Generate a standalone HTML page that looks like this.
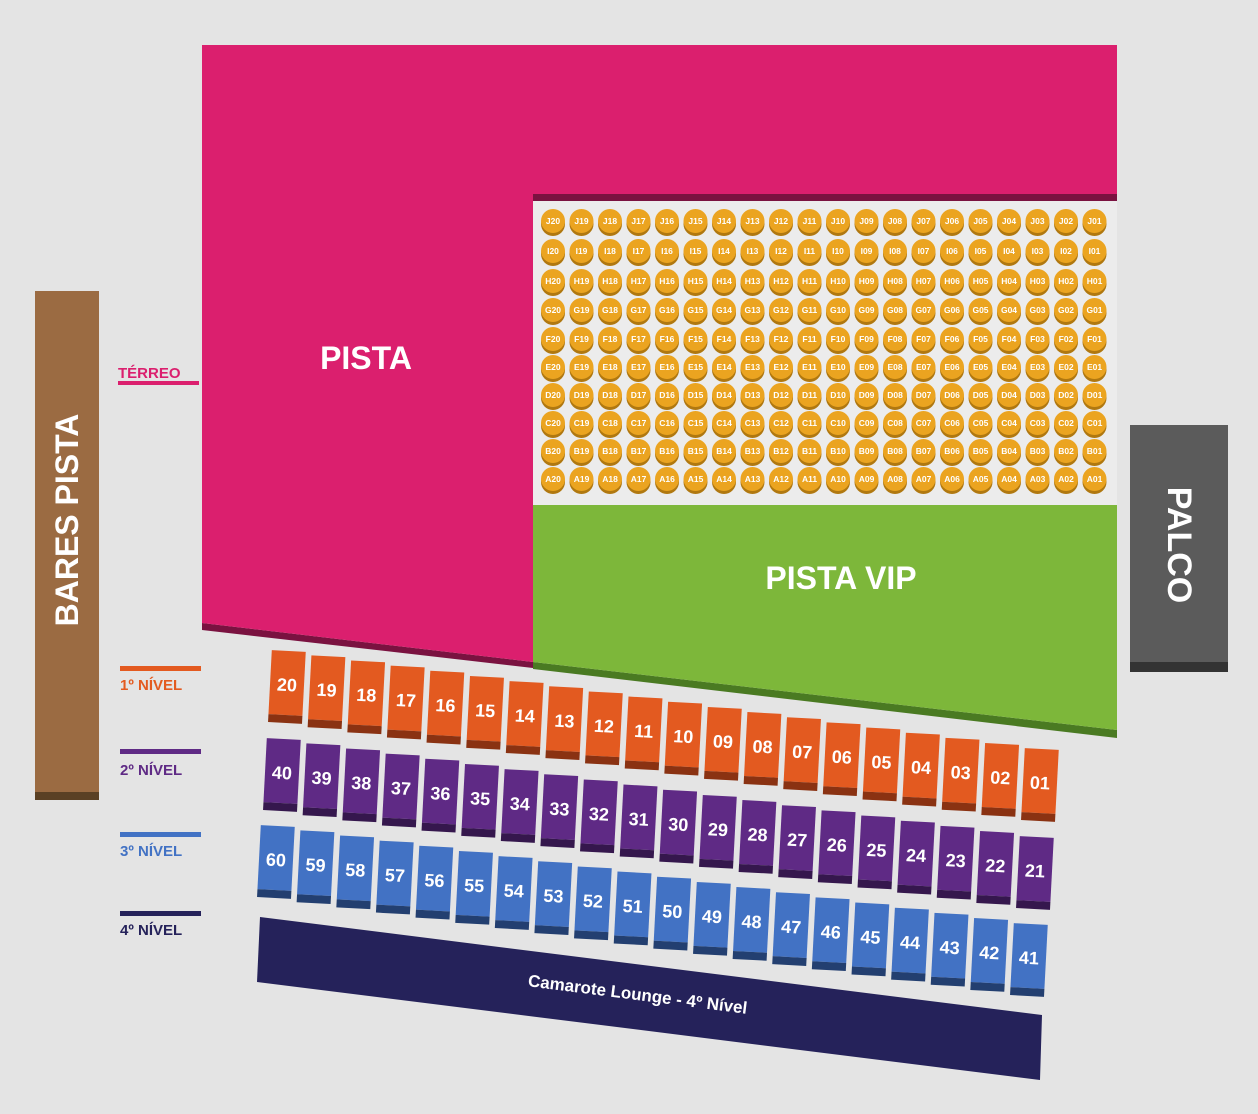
<!DOCTYPE html>
<html><head><meta charset="utf-8"><style>
html,body{margin:0;padding:0;background:#e4e4e4}
svg{display:block}
text{font-family:"Liberation Sans",sans-serif;font-weight:bold}
.s text{font-size:8.5px;fill:#fff;text-anchor:middle}
.b text{font-size:18px;fill:#fff;text-anchor:middle}
</style></head><body>
<svg width="1258" height="1114" viewBox="0 0 1258 1114" xmlns="http://www.w3.org/2000/svg" xmlns:xlink="http://www.w3.org/1999/xlink">
<defs>
<g id="s"><circle cy="3" r="12" fill="#B07810"/><circle r="12" fill="#EBA420"/></g>
<g id="o"><rect x="-17" y="-34" width="34" height="64" fill="#E35A20"/><rect x="-17" y="30" width="34" height="8" fill="#8A3212"/></g>
<g id="p"><rect x="-17" y="-34" width="34" height="64" fill="#5F2A85"/><rect x="-17" y="30" width="34" height="8" fill="#35174D"/></g>
<g id="u"><rect x="-17" y="-34" width="34" height="64" fill="#4272C4"/><rect x="-17" y="30" width="34" height="8" fill="#233F70"/></g>
</defs>
<rect width="1258" height="1114" fill="#e4e4e4"/>
<!-- Bares pista -->
<rect x="35" y="291" width="64" height="509" fill="#9B6B42"/>
<rect x="35" y="792" width="64" height="8" fill="#5A4024"/>
<text transform="translate(78,520) rotate(-90)" text-anchor="middle" font-size="32" fill="#fff">BARES PISTA</text>
<!-- Pista -->
<polygon points="202,623 533,662 533,668 202,630" fill="#7A1240"/>
<polygon points="202,45 1117,45 1117,195 533,195 533,662 202,623" fill="#DB1F6E"/>
<rect x="533" y="194" width="584" height="7" fill="#7A1240"/>
<rect x="533" y="201" width="584" height="304" fill="#ececec"/>
<text x="366" y="369" text-anchor="middle" font-size="32" fill="#fff">PISTA</text>
<!-- Pista VIP -->
<polygon points="533,662 1117,730 1117,738 533,669" fill="#4A7A22"/>
<polygon points="533,505 1117,505 1117,730 533,662" fill="#7DB73A"/>
<text x="841" y="589" text-anchor="middle" font-size="32" fill="#fff">PISTA VIP</text>
<!-- Palco -->
<rect x="1130" y="425" width="98" height="247" fill="#5B5B5B"/>
<rect x="1130" y="662" width="98" height="10" fill="#333"/>
<text transform="translate(1168,545) rotate(90)" text-anchor="middle" font-size="34" fill="#fff">PALCO</text>
<!-- legend -->
<text x="118" y="378" font-size="15" fill="#DB1F6E">TÉRREO</text><rect x="118" y="381" width="81" height="4" fill="#DB1F6E"/>
<rect x="120" y="666" width="81" height="5" fill="#E35A20"/><text x="120" y="690" font-size="15" fill="#E35A20">1º NÍVEL</text>
<rect x="120" y="749" width="81" height="5" fill="#5F2A85"/><text x="120" y="775" font-size="15" fill="#5F2A85">2º NÍVEL</text>
<rect x="120" y="832" width="81" height="5" fill="#4272C4"/><text x="120" y="856" font-size="15" fill="#4272C4">3º NÍVEL</text>
<rect x="120" y="911" width="81" height="5" fill="#25225A"/><text x="120" y="935" font-size="15" fill="#25225A">4º NÍVEL</text>
<!-- Camarote -->
<polygon points="260,917 1042,1015 1040,1080 257,982" fill="#25225A"/>
<text transform="translate(637,1000) rotate(7.2)" text-anchor="middle" font-size="17" fill="#fff">Camarote Lounge - 4º Nível</text>
<!-- seats -->
<g class="s">
<g transform="translate(0,221)">
<use xlink:href="#s" x="553"/><use xlink:href="#s" x="581.5"/><use xlink:href="#s" x="610"/><use xlink:href="#s" x="638.5"/><use xlink:href="#s" x="667"/><use xlink:href="#s" x="695.5"/><use xlink:href="#s" x="724"/><use xlink:href="#s" x="752.5"/><use xlink:href="#s" x="781"/><use xlink:href="#s" x="809.5"/><use xlink:href="#s" x="838"/><use xlink:href="#s" x="866.5"/><use xlink:href="#s" x="895"/><use xlink:href="#s" x="923.5"/><use xlink:href="#s" x="952"/><use xlink:href="#s" x="980.5"/><use xlink:href="#s" x="1009"/><use xlink:href="#s" x="1037.5"/><use xlink:href="#s" x="1066"/><use xlink:href="#s" x="1094.5"/>
<text y="3" x="553">J20</text><text y="3" x="581.5">J19</text><text y="3" x="610">J18</text><text y="3" x="638.5">J17</text><text y="3" x="667">J16</text><text y="3" x="695.5">J15</text><text y="3" x="724">J14</text><text y="3" x="752.5">J13</text><text y="3" x="781">J12</text><text y="3" x="809.5">J11</text><text y="3" x="838">J10</text><text y="3" x="866.5">J09</text><text y="3" x="895">J08</text><text y="3" x="923.5">J07</text><text y="3" x="952">J06</text><text y="3" x="980.5">J05</text><text y="3" x="1009">J04</text><text y="3" x="1037.5">J03</text><text y="3" x="1066">J02</text><text y="3" x="1094.5">J01</text>
</g>
<g transform="translate(0,251)">
<use xlink:href="#s" x="553"/><use xlink:href="#s" x="581.5"/><use xlink:href="#s" x="610"/><use xlink:href="#s" x="638.5"/><use xlink:href="#s" x="667"/><use xlink:href="#s" x="695.5"/><use xlink:href="#s" x="724"/><use xlink:href="#s" x="752.5"/><use xlink:href="#s" x="781"/><use xlink:href="#s" x="809.5"/><use xlink:href="#s" x="838"/><use xlink:href="#s" x="866.5"/><use xlink:href="#s" x="895"/><use xlink:href="#s" x="923.5"/><use xlink:href="#s" x="952"/><use xlink:href="#s" x="980.5"/><use xlink:href="#s" x="1009"/><use xlink:href="#s" x="1037.5"/><use xlink:href="#s" x="1066"/><use xlink:href="#s" x="1094.5"/>
<text y="3" x="553">I20</text><text y="3" x="581.5">I19</text><text y="3" x="610">I18</text><text y="3" x="638.5">I17</text><text y="3" x="667">I16</text><text y="3" x="695.5">I15</text><text y="3" x="724">I14</text><text y="3" x="752.5">I13</text><text y="3" x="781">I12</text><text y="3" x="809.5">I11</text><text y="3" x="838">I10</text><text y="3" x="866.5">I09</text><text y="3" x="895">I08</text><text y="3" x="923.5">I07</text><text y="3" x="952">I06</text><text y="3" x="980.5">I05</text><text y="3" x="1009">I04</text><text y="3" x="1037.5">I03</text><text y="3" x="1066">I02</text><text y="3" x="1094.5">I01</text>
</g>
<g transform="translate(0,281)">
<use xlink:href="#s" x="553"/><use xlink:href="#s" x="581.5"/><use xlink:href="#s" x="610"/><use xlink:href="#s" x="638.5"/><use xlink:href="#s" x="667"/><use xlink:href="#s" x="695.5"/><use xlink:href="#s" x="724"/><use xlink:href="#s" x="752.5"/><use xlink:href="#s" x="781"/><use xlink:href="#s" x="809.5"/><use xlink:href="#s" x="838"/><use xlink:href="#s" x="866.5"/><use xlink:href="#s" x="895"/><use xlink:href="#s" x="923.5"/><use xlink:href="#s" x="952"/><use xlink:href="#s" x="980.5"/><use xlink:href="#s" x="1009"/><use xlink:href="#s" x="1037.5"/><use xlink:href="#s" x="1066"/><use xlink:href="#s" x="1094.5"/>
<text y="3" x="553">H20</text><text y="3" x="581.5">H19</text><text y="3" x="610">H18</text><text y="3" x="638.5">H17</text><text y="3" x="667">H16</text><text y="3" x="695.5">H15</text><text y="3" x="724">H14</text><text y="3" x="752.5">H13</text><text y="3" x="781">H12</text><text y="3" x="809.5">H11</text><text y="3" x="838">H10</text><text y="3" x="866.5">H09</text><text y="3" x="895">H08</text><text y="3" x="923.5">H07</text><text y="3" x="952">H06</text><text y="3" x="980.5">H05</text><text y="3" x="1009">H04</text><text y="3" x="1037.5">H03</text><text y="3" x="1066">H02</text><text y="3" x="1094.5">H01</text>
</g>
<g transform="translate(0,310)">
<use xlink:href="#s" x="553"/><use xlink:href="#s" x="581.5"/><use xlink:href="#s" x="610"/><use xlink:href="#s" x="638.5"/><use xlink:href="#s" x="667"/><use xlink:href="#s" x="695.5"/><use xlink:href="#s" x="724"/><use xlink:href="#s" x="752.5"/><use xlink:href="#s" x="781"/><use xlink:href="#s" x="809.5"/><use xlink:href="#s" x="838"/><use xlink:href="#s" x="866.5"/><use xlink:href="#s" x="895"/><use xlink:href="#s" x="923.5"/><use xlink:href="#s" x="952"/><use xlink:href="#s" x="980.5"/><use xlink:href="#s" x="1009"/><use xlink:href="#s" x="1037.5"/><use xlink:href="#s" x="1066"/><use xlink:href="#s" x="1094.5"/>
<text y="3" x="553">G20</text><text y="3" x="581.5">G19</text><text y="3" x="610">G18</text><text y="3" x="638.5">G17</text><text y="3" x="667">G16</text><text y="3" x="695.5">G15</text><text y="3" x="724">G14</text><text y="3" x="752.5">G13</text><text y="3" x="781">G12</text><text y="3" x="809.5">G11</text><text y="3" x="838">G10</text><text y="3" x="866.5">G09</text><text y="3" x="895">G08</text><text y="3" x="923.5">G07</text><text y="3" x="952">G06</text><text y="3" x="980.5">G05</text><text y="3" x="1009">G04</text><text y="3" x="1037.5">G03</text><text y="3" x="1066">G02</text><text y="3" x="1094.5">G01</text>
</g>
<g transform="translate(0,339)">
<use xlink:href="#s" x="553"/><use xlink:href="#s" x="581.5"/><use xlink:href="#s" x="610"/><use xlink:href="#s" x="638.5"/><use xlink:href="#s" x="667"/><use xlink:href="#s" x="695.5"/><use xlink:href="#s" x="724"/><use xlink:href="#s" x="752.5"/><use xlink:href="#s" x="781"/><use xlink:href="#s" x="809.5"/><use xlink:href="#s" x="838"/><use xlink:href="#s" x="866.5"/><use xlink:href="#s" x="895"/><use xlink:href="#s" x="923.5"/><use xlink:href="#s" x="952"/><use xlink:href="#s" x="980.5"/><use xlink:href="#s" x="1009"/><use xlink:href="#s" x="1037.5"/><use xlink:href="#s" x="1066"/><use xlink:href="#s" x="1094.5"/>
<text y="3" x="553">F20</text><text y="3" x="581.5">F19</text><text y="3" x="610">F18</text><text y="3" x="638.5">F17</text><text y="3" x="667">F16</text><text y="3" x="695.5">F15</text><text y="3" x="724">F14</text><text y="3" x="752.5">F13</text><text y="3" x="781">F12</text><text y="3" x="809.5">F11</text><text y="3" x="838">F10</text><text y="3" x="866.5">F09</text><text y="3" x="895">F08</text><text y="3" x="923.5">F07</text><text y="3" x="952">F06</text><text y="3" x="980.5">F05</text><text y="3" x="1009">F04</text><text y="3" x="1037.5">F03</text><text y="3" x="1066">F02</text><text y="3" x="1094.5">F01</text>
</g>
<g transform="translate(0,367)">
<use xlink:href="#s" x="553"/><use xlink:href="#s" x="581.5"/><use xlink:href="#s" x="610"/><use xlink:href="#s" x="638.5"/><use xlink:href="#s" x="667"/><use xlink:href="#s" x="695.5"/><use xlink:href="#s" x="724"/><use xlink:href="#s" x="752.5"/><use xlink:href="#s" x="781"/><use xlink:href="#s" x="809.5"/><use xlink:href="#s" x="838"/><use xlink:href="#s" x="866.5"/><use xlink:href="#s" x="895"/><use xlink:href="#s" x="923.5"/><use xlink:href="#s" x="952"/><use xlink:href="#s" x="980.5"/><use xlink:href="#s" x="1009"/><use xlink:href="#s" x="1037.5"/><use xlink:href="#s" x="1066"/><use xlink:href="#s" x="1094.5"/>
<text y="3" x="553">E20</text><text y="3" x="581.5">E19</text><text y="3" x="610">E18</text><text y="3" x="638.5">E17</text><text y="3" x="667">E16</text><text y="3" x="695.5">E15</text><text y="3" x="724">E14</text><text y="3" x="752.5">E13</text><text y="3" x="781">E12</text><text y="3" x="809.5">E11</text><text y="3" x="838">E10</text><text y="3" x="866.5">E09</text><text y="3" x="895">E08</text><text y="3" x="923.5">E07</text><text y="3" x="952">E06</text><text y="3" x="980.5">E05</text><text y="3" x="1009">E04</text><text y="3" x="1037.5">E03</text><text y="3" x="1066">E02</text><text y="3" x="1094.5">E01</text>
</g>
<g transform="translate(0,395)">
<use xlink:href="#s" x="553"/><use xlink:href="#s" x="581.5"/><use xlink:href="#s" x="610"/><use xlink:href="#s" x="638.5"/><use xlink:href="#s" x="667"/><use xlink:href="#s" x="695.5"/><use xlink:href="#s" x="724"/><use xlink:href="#s" x="752.5"/><use xlink:href="#s" x="781"/><use xlink:href="#s" x="809.5"/><use xlink:href="#s" x="838"/><use xlink:href="#s" x="866.5"/><use xlink:href="#s" x="895"/><use xlink:href="#s" x="923.5"/><use xlink:href="#s" x="952"/><use xlink:href="#s" x="980.5"/><use xlink:href="#s" x="1009"/><use xlink:href="#s" x="1037.5"/><use xlink:href="#s" x="1066"/><use xlink:href="#s" x="1094.5"/>
<text y="3" x="553">D20</text><text y="3" x="581.5">D19</text><text y="3" x="610">D18</text><text y="3" x="638.5">D17</text><text y="3" x="667">D16</text><text y="3" x="695.5">D15</text><text y="3" x="724">D14</text><text y="3" x="752.5">D13</text><text y="3" x="781">D12</text><text y="3" x="809.5">D11</text><text y="3" x="838">D10</text><text y="3" x="866.5">D09</text><text y="3" x="895">D08</text><text y="3" x="923.5">D07</text><text y="3" x="952">D06</text><text y="3" x="980.5">D05</text><text y="3" x="1009">D04</text><text y="3" x="1037.5">D03</text><text y="3" x="1066">D02</text><text y="3" x="1094.5">D01</text>
</g>
<g transform="translate(0,423)">
<use xlink:href="#s" x="553"/><use xlink:href="#s" x="581.5"/><use xlink:href="#s" x="610"/><use xlink:href="#s" x="638.5"/><use xlink:href="#s" x="667"/><use xlink:href="#s" x="695.5"/><use xlink:href="#s" x="724"/><use xlink:href="#s" x="752.5"/><use xlink:href="#s" x="781"/><use xlink:href="#s" x="809.5"/><use xlink:href="#s" x="838"/><use xlink:href="#s" x="866.5"/><use xlink:href="#s" x="895"/><use xlink:href="#s" x="923.5"/><use xlink:href="#s" x="952"/><use xlink:href="#s" x="980.5"/><use xlink:href="#s" x="1009"/><use xlink:href="#s" x="1037.5"/><use xlink:href="#s" x="1066"/><use xlink:href="#s" x="1094.5"/>
<text y="3" x="553">C20</text><text y="3" x="581.5">C19</text><text y="3" x="610">C18</text><text y="3" x="638.5">C17</text><text y="3" x="667">C16</text><text y="3" x="695.5">C15</text><text y="3" x="724">C14</text><text y="3" x="752.5">C13</text><text y="3" x="781">C12</text><text y="3" x="809.5">C11</text><text y="3" x="838">C10</text><text y="3" x="866.5">C09</text><text y="3" x="895">C08</text><text y="3" x="923.5">C07</text><text y="3" x="952">C06</text><text y="3" x="980.5">C05</text><text y="3" x="1009">C04</text><text y="3" x="1037.5">C03</text><text y="3" x="1066">C02</text><text y="3" x="1094.5">C01</text>
</g>
<g transform="translate(0,451)">
<use xlink:href="#s" x="553"/><use xlink:href="#s" x="581.5"/><use xlink:href="#s" x="610"/><use xlink:href="#s" x="638.5"/><use xlink:href="#s" x="667"/><use xlink:href="#s" x="695.5"/><use xlink:href="#s" x="724"/><use xlink:href="#s" x="752.5"/><use xlink:href="#s" x="781"/><use xlink:href="#s" x="809.5"/><use xlink:href="#s" x="838"/><use xlink:href="#s" x="866.5"/><use xlink:href="#s" x="895"/><use xlink:href="#s" x="923.5"/><use xlink:href="#s" x="952"/><use xlink:href="#s" x="980.5"/><use xlink:href="#s" x="1009"/><use xlink:href="#s" x="1037.5"/><use xlink:href="#s" x="1066"/><use xlink:href="#s" x="1094.5"/>
<text y="3" x="553">B20</text><text y="3" x="581.5">B19</text><text y="3" x="610">B18</text><text y="3" x="638.5">B17</text><text y="3" x="667">B16</text><text y="3" x="695.5">B15</text><text y="3" x="724">B14</text><text y="3" x="752.5">B13</text><text y="3" x="781">B12</text><text y="3" x="809.5">B11</text><text y="3" x="838">B10</text><text y="3" x="866.5">B09</text><text y="3" x="895">B08</text><text y="3" x="923.5">B07</text><text y="3" x="952">B06</text><text y="3" x="980.5">B05</text><text y="3" x="1009">B04</text><text y="3" x="1037.5">B03</text><text y="3" x="1066">B02</text><text y="3" x="1094.5">B01</text>
</g>
<g transform="translate(0,479)">
<use xlink:href="#s" x="553"/><use xlink:href="#s" x="581.5"/><use xlink:href="#s" x="610"/><use xlink:href="#s" x="638.5"/><use xlink:href="#s" x="667"/><use xlink:href="#s" x="695.5"/><use xlink:href="#s" x="724"/><use xlink:href="#s" x="752.5"/><use xlink:href="#s" x="781"/><use xlink:href="#s" x="809.5"/><use xlink:href="#s" x="838"/><use xlink:href="#s" x="866.5"/><use xlink:href="#s" x="895"/><use xlink:href="#s" x="923.5"/><use xlink:href="#s" x="952"/><use xlink:href="#s" x="980.5"/><use xlink:href="#s" x="1009"/><use xlink:href="#s" x="1037.5"/><use xlink:href="#s" x="1066"/><use xlink:href="#s" x="1094.5"/>
<text y="3" x="553">A20</text><text y="3" x="581.5">A19</text><text y="3" x="610">A18</text><text y="3" x="638.5">A17</text><text y="3" x="667">A16</text><text y="3" x="695.5">A15</text><text y="3" x="724">A14</text><text y="3" x="752.5">A13</text><text y="3" x="781">A12</text><text y="3" x="809.5">A11</text><text y="3" x="838">A10</text><text y="3" x="866.5">A09</text><text y="3" x="895">A08</text><text y="3" x="923.5">A07</text><text y="3" x="952">A06</text><text y="3" x="980.5">A05</text><text y="3" x="1009">A04</text><text y="3" x="1037.5">A03</text><text y="3" x="1066">A02</text><text y="3" x="1094.5">A01</text>
</g>
</g>
<!-- boxes -->
<g class="b">
<g>
<g transform="translate(287,685) rotate(3)"><use xlink:href="#o"/><text y="6">20</text></g>
<g transform="translate(326.6,690.2) rotate(3)"><use xlink:href="#o"/><text y="6">19</text></g>
<g transform="translate(366.3,695.3) rotate(3)"><use xlink:href="#o"/><text y="6">18</text></g>
<g transform="translate(405.9,700.5) rotate(3)"><use xlink:href="#o"/><text y="6">17</text></g>
<g transform="translate(445.5,705.6) rotate(3)"><use xlink:href="#o"/><text y="6">16</text></g>
<g transform="translate(485.2,710.8) rotate(3)"><use xlink:href="#o"/><text y="6">15</text></g>
<g transform="translate(524.8,716) rotate(3)"><use xlink:href="#o"/><text y="6">14</text></g>
<g transform="translate(564.4,721.1) rotate(3)"><use xlink:href="#o"/><text y="6">13</text></g>
<g transform="translate(604,726.3) rotate(3)"><use xlink:href="#o"/><text y="6">12</text></g>
<g transform="translate(643.7,731.4) rotate(3)"><use xlink:href="#o"/><text y="6">11</text></g>
<g transform="translate(683.3,736.6) rotate(3)"><use xlink:href="#o"/><text y="6">10</text></g>
<g transform="translate(723,741.8) rotate(3)"><use xlink:href="#o"/><text y="6">09</text></g>
<g transform="translate(762.6,746.9) rotate(3)"><use xlink:href="#o"/><text y="6">08</text></g>
<g transform="translate(802.2,752.1) rotate(3)"><use xlink:href="#o"/><text y="6">07</text></g>
<g transform="translate(841.8,757.2) rotate(3)"><use xlink:href="#o"/><text y="6">06</text></g>
<g transform="translate(881.5,762.4) rotate(3)"><use xlink:href="#o"/><text y="6">05</text></g>
<g transform="translate(921.1,767.6) rotate(3)"><use xlink:href="#o"/><text y="6">04</text></g>
<g transform="translate(960.7,772.7) rotate(3)"><use xlink:href="#o"/><text y="6">03</text></g>
<g transform="translate(1000.3,777.9) rotate(3)"><use xlink:href="#o"/><text y="6">02</text></g>
<g transform="translate(1040,783) rotate(3)"><use xlink:href="#o"/><text y="6">01</text></g>
</g>
<g transform="translate(-5,88)">
<g transform="translate(287,685) rotate(3)"><use xlink:href="#p"/><text y="6">40</text></g>
<g transform="translate(326.6,690.2) rotate(3)"><use xlink:href="#p"/><text y="6">39</text></g>
<g transform="translate(366.3,695.3) rotate(3)"><use xlink:href="#p"/><text y="6">38</text></g>
<g transform="translate(405.9,700.5) rotate(3)"><use xlink:href="#p"/><text y="6">37</text></g>
<g transform="translate(445.5,705.6) rotate(3)"><use xlink:href="#p"/><text y="6">36</text></g>
<g transform="translate(485.2,710.8) rotate(3)"><use xlink:href="#p"/><text y="6">35</text></g>
<g transform="translate(524.8,716) rotate(3)"><use xlink:href="#p"/><text y="6">34</text></g>
<g transform="translate(564.4,721.1) rotate(3)"><use xlink:href="#p"/><text y="6">33</text></g>
<g transform="translate(604,726.3) rotate(3)"><use xlink:href="#p"/><text y="6">32</text></g>
<g transform="translate(643.7,731.4) rotate(3)"><use xlink:href="#p"/><text y="6">31</text></g>
<g transform="translate(683.3,736.6) rotate(3)"><use xlink:href="#p"/><text y="6">30</text></g>
<g transform="translate(723,741.8) rotate(3)"><use xlink:href="#p"/><text y="6">29</text></g>
<g transform="translate(762.6,746.9) rotate(3)"><use xlink:href="#p"/><text y="6">28</text></g>
<g transform="translate(802.2,752.1) rotate(3)"><use xlink:href="#p"/><text y="6">27</text></g>
<g transform="translate(841.8,757.2) rotate(3)"><use xlink:href="#p"/><text y="6">26</text></g>
<g transform="translate(881.5,762.4) rotate(3)"><use xlink:href="#p"/><text y="6">25</text></g>
<g transform="translate(921.1,767.6) rotate(3)"><use xlink:href="#p"/><text y="6">24</text></g>
<g transform="translate(960.7,772.7) rotate(3)"><use xlink:href="#p"/><text y="6">23</text></g>
<g transform="translate(1000.3,777.9) rotate(3)"><use xlink:href="#p"/><text y="6">22</text></g>
<g transform="translate(1040,783) rotate(3)"><use xlink:href="#p"/><text y="6">21</text></g>
</g>
<g transform="translate(-11,175)">
<g transform="translate(287,685) rotate(3)"><use xlink:href="#u"/><text y="6">60</text></g>
<g transform="translate(326.6,690.2) rotate(3)"><use xlink:href="#u"/><text y="6">59</text></g>
<g transform="translate(366.3,695.3) rotate(3)"><use xlink:href="#u"/><text y="6">58</text></g>
<g transform="translate(405.9,700.5) rotate(3)"><use xlink:href="#u"/><text y="6">57</text></g>
<g transform="translate(445.5,705.6) rotate(3)"><use xlink:href="#u"/><text y="6">56</text></g>
<g transform="translate(485.2,710.8) rotate(3)"><use xlink:href="#u"/><text y="6">55</text></g>
<g transform="translate(524.8,716) rotate(3)"><use xlink:href="#u"/><text y="6">54</text></g>
<g transform="translate(564.4,721.1) rotate(3)"><use xlink:href="#u"/><text y="6">53</text></g>
<g transform="translate(604,726.3) rotate(3)"><use xlink:href="#u"/><text y="6">52</text></g>
<g transform="translate(643.7,731.4) rotate(3)"><use xlink:href="#u"/><text y="6">51</text></g>
<g transform="translate(683.3,736.6) rotate(3)"><use xlink:href="#u"/><text y="6">50</text></g>
<g transform="translate(723,741.8) rotate(3)"><use xlink:href="#u"/><text y="6">49</text></g>
<g transform="translate(762.6,746.9) rotate(3)"><use xlink:href="#u"/><text y="6">48</text></g>
<g transform="translate(802.2,752.1) rotate(3)"><use xlink:href="#u"/><text y="6">47</text></g>
<g transform="translate(841.8,757.2) rotate(3)"><use xlink:href="#u"/><text y="6">46</text></g>
<g transform="translate(881.5,762.4) rotate(3)"><use xlink:href="#u"/><text y="6">45</text></g>
<g transform="translate(921.1,767.6) rotate(3)"><use xlink:href="#u"/><text y="6">44</text></g>
<g transform="translate(960.7,772.7) rotate(3)"><use xlink:href="#u"/><text y="6">43</text></g>
<g transform="translate(1000.3,777.9) rotate(3)"><use xlink:href="#u"/><text y="6">42</text></g>
<g transform="translate(1040,783) rotate(3)"><use xlink:href="#u"/><text y="6">41</text></g>
</g>
</g>
</svg>
</body></html>
